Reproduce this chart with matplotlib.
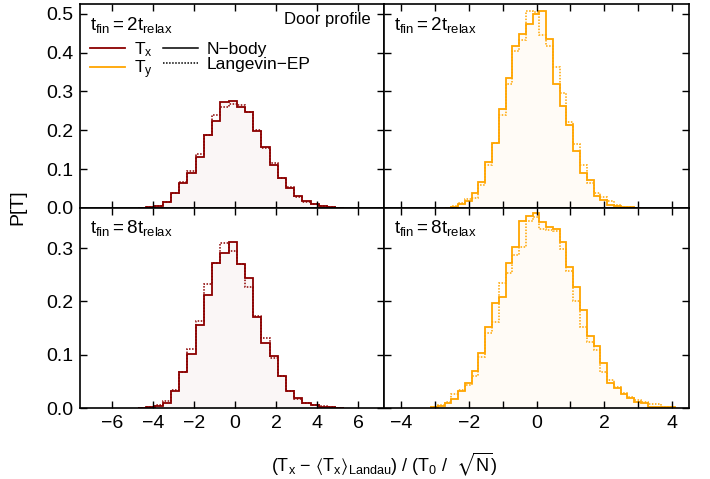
import numpy as np
import matplotlib
matplotlib.use("Agg")
import matplotlib.pyplot as plt
from matplotlib.ticker import MultipleLocator, FormatStrFormatter
from matplotlib.lines import Line2D

plt.rcParams['font.family'] = ['Liberation Sans', 'DejaVu Sans']
plt.rcParams['mathtext.fontset'] = 'custom'
plt.rcParams['mathtext.rm'] = 'Liberation Sans'
plt.rcParams['mathtext.it'] = 'Liberation Sans'
plt.rcParams['mathtext.sf'] = 'Liberation Sans'
plt.rcParams['mathtext.fallback'] = 'stixsans'
plt.rcParams['font.size'] = 12

C_TX = '#8b0000'
C_TY = '#ffa500'

## histogram bins (first edge, width)
left_start, left_width = -4.72, 0.4
right_top_start, right_width = -2.72, 0.2
right_bot_start = -3.12

## P[T], t_fin = 2 t_relax
tx_2_nbody = [0.001, 0.002, 0.004, 0.016, 0.038, 0.064, 0.090, 0.130, 0.189, 0.224,
              0.273, 0.275, 0.261, 0.246, 0.197, 0.158, 0.110, 0.077, 0.051, 0.031,
              0.018, 0.009, 0.004, 0.003, 0.001]
tx_2_lang = [0.001, 0.002, 0.004, 0.016, 0.038, 0.066, 0.095, 0.140, 0.189, 0.240,
             0.260, 0.268, 0.264, 0.248, 0.200, 0.154, 0.117, 0.077, 0.053, 0.029,
             0.016, 0.010, 0.005, 0.003, 0.001]
ty_2_nbody = [0.001, 0.002, 0.009, 0.018, 0.039, 0.066, 0.118, 0.166, 0.255, 0.334,
              0.418, 0.449, 0.473, 0.500, 0.508, 0.434, 0.320, 0.2625, 0.213, 0.147,
              0.090, 0.073, 0.0315, 0.020, 0.007, 0.004, 0.003, 0.002, 0.001]
ty_2_lang = [0.001, 0.004, 0.012, 0.022, 0.026, 0.059, 0.110, 0.166, 0.240, 0.320,
             0.404, 0.432, 0.508, 0.504, 0.446, 0.416, 0.364, 0.296, 0.221, 0.164,
             0.110, 0.064, 0.039, 0.029, 0.0175, 0.007, 0.0035, 0.002, 0.001]

## P[T], t_fin = 8 t_relax
tx_8_nbody = [0.0005, 0.001, 0.004, 0.009, 0.031, 0.068, 0.101, 0.156, 0.212, 0.2725,
              0.290, 0.312, 0.270, 0.244, 0.171, 0.121, 0.0975, 0.060, 0.0325, 0.018,
              0.010, 0.006, 0.0025, 0.002, 0.0005]
tx_8_lang = [0.0005, 0.001, 0.006, 0.014, 0.034, 0.068, 0.110, 0.164, 0.2325, 0.2725,
             0.310, 0.295, 0.270, 0.227, 0.172, 0.131, 0.093, 0.060, 0.0325, 0.016,
             0.009, 0.005, 0.003, 0.002, 0.0005]
ty_8_nbody = [0.001, 0.004, 0.010, 0.016, 0.031, 0.0475, 0.069, 0.104, 0.151, 0.196,
              0.209, 0.2725, 0.3025, 0.351, 0.360, 0.366, 0.349, 0.340, 0.335, 0.312,
              0.264, 0.2275, 0.184, 0.135, 0.116, 0.085, 0.0475, 0.037, 0.026, 0.018,
              0.012, 0.010, 0.0025, 0.0025, 0.0025, 0.001]
ty_8_lang = [0.002, 0.006, 0.012, 0.026, 0.033, 0.044, 0.060, 0.096, 0.140, 0.162,
             0.235, 0.2525, 0.287, 0.3025, 0.350, 0.359, 0.335, 0.334, 0.3325, 0.2975,
             0.256, 0.200, 0.1525, 0.124, 0.109, 0.068, 0.0525, 0.040, 0.0275, 0.021,
             0.015, 0.012, 0.0075, 0.0075, 0.0025, 0.002]


def edges(start, width, vals):
    return start + width * np.arange(len(vals) + 1)


def draw(ax, x0, dx, nbody, lang, color):
    e = edges(x0, dx, nbody)
    ax.stairs(nbody, e, fill=True, color=color, alpha=0.035, lw=0)
    ax.stairs(nbody, e, color=color, lw=1.3)
    ax.stairs(lang, e, color=color, lw=1.1, ls=(0, (1, 1)))


fig = plt.figure(figsize=(7.1, 4.79), dpi=100)
ax_tl = fig.add_axes([0.1127, 0.5658, 0.4282, 0.4259])
ax_tr = fig.add_axes([0.5408, 0.5658, 0.4296, 0.4259])
ax_bl = fig.add_axes([0.1127, 0.1482, 0.4282, 0.4175])
ax_br = fig.add_axes([0.5408, 0.1482, 0.4296, 0.4175])

draw(ax_tl, left_start, left_width, tx_2_nbody, tx_2_lang, C_TX)
draw(ax_tr, right_top_start, right_width, ty_2_nbody, ty_2_lang, C_TY)
draw(ax_bl, left_start, left_width, tx_8_nbody, tx_8_lang, C_TX)
draw(ax_br, right_bot_start, right_width, ty_8_nbody, ty_8_lang, C_TY)

for ax in (ax_tl, ax_tr, ax_bl, ax_br):
    ax.tick_params(which='both', direction='in', top=True, right=True,
                   length=5, width=1.0, labelsize=14, pad=5)
    ax.yaxis.set_major_locator(MultipleLocator(0.1))
    ax.yaxis.set_major_formatter(FormatStrFormatter('%.1f'))
    for s in ax.spines.values():
        s.set_linewidth(1.2)

for ax in (ax_tl, ax_bl):
    ax.set_xlim(-7.55, 7.25)
    ax.xaxis.set_major_locator(MultipleLocator(2))
for ax in (ax_tr, ax_br):
    ax.set_xlim(-4.51, 4.5)
    ax.xaxis.set_major_locator(MultipleLocator(2))
    ax.xaxis.set_minor_locator(MultipleLocator(1))
    ax.tick_params(labelleft=False)
for ax in (ax_tl, ax_tr):
    ax.set_ylim(0, 0.525)
    ax.tick_params(labelbottom=False)
for ax in (ax_bl, ax_br):
    ax.set_ylim(0, 0.375)

for ax in (ax_tl, ax_tr):
    ax.text(0.033, 0.897, r'$t_{fin}=2t_{relax}$', transform=ax.transAxes,
            va='center', ha='left', fontsize=13.5)
for ax in (ax_bl, ax_br):
    ax.text(0.033, 0.9, r'$t_{fin}=8t_{relax}$', transform=ax.transAxes,
            va='center', ha='left', fontsize=13.5)

ax_tl.text(0.955, 0.926, 'Door profile', transform=ax_tl.transAxes,
           va='center', ha='right', fontsize=12)

handles = [Line2D([], [], color=C_TX, lw=1.3),
           Line2D([], [], color=C_TY, lw=1.3),
           Line2D([], [], color='black', lw=1.1),
           Line2D([], [], color='black', lw=1.1, ls=(0, (1, 1)))]
labels = [r'T$_x$', r'T$_y$', 'N−body', 'Langevin−EP']
ax_tl.legend(handles, labels, ncol=2, frameon=False, loc='upper left',
             bbox_to_anchor=(0.0, 0.875), handlelength=2.0, handletextpad=0.5,
             columnspacing=0.6, labelspacing=0.0, fontsize=12.5,
             borderaxespad=0.2)

fig.text(0.5415, 0.03,
         r'(T$_x$ − $\langle$T$_x$$\rangle_{Landau}$) / (T$_0$ /  $\sqrt{N}$)',
         ha='center', va='center', fontsize=13)
fig.text(0.025, 0.568, 'P[T]', rotation=90, ha='center', va='center', fontsize=14)

fig.savefig('out.png', dpi=100)
